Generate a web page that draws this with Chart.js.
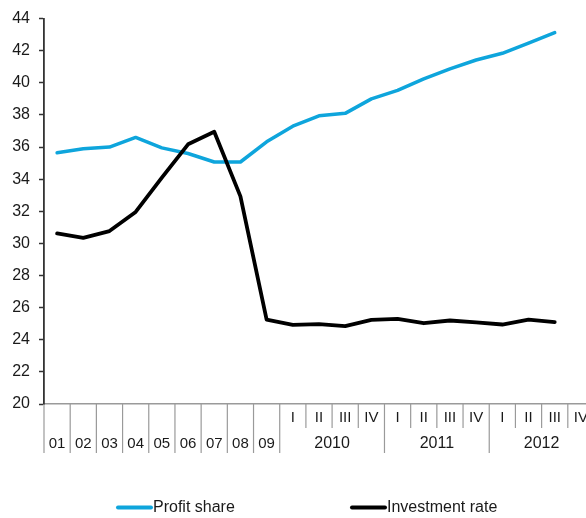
<!DOCTYPE html>
<html>
<head>
<meta charset="utf-8">
<script src="https://cdn.jsdelivr.net/npm/chart.js@4/dist/chart.umd.min.js"></script>
<style>
  html, body { margin: 0; padding: 0; background: #fff; overflow: hidden; width: 586px; height: 518px; }
  #wrap { position: absolute; left: 0; top: 0; width: 600px; height: 518px; }
</style>
</head>
<body>
<div id="wrap"><canvas id="c" width="600" height="518"></canvas></div>
<script>
// ---- data ----
const annualLabels = ['01', '02', '03', '04', '05', '06', '07', '08', '09'];
const quarterLabels = ['I', 'II', 'III', 'IV'];
const quarterYears = ['2010', '2011', '2012'];
const yTicks = [20, 22, 24, 26, 28, 30, 32, 34, 36, 38, 40, 42, 44];

const profitShare = [35.65, 35.9, 36.0, 36.6, 35.95, 35.6, 35.07, 35.07, 36.33,
                     37.3, 37.95, 38.1, 39.0, 39.53, 40.25, 40.87, 41.42, 41.84, 42.47, 43.13, null];
const investmentRate = [30.62, 30.35, 30.77, 31.96, 34.1, 36.17, 36.95, 32.93, 25.26,
                        24.93, 24.98, 24.85, 25.24, 25.3, 25.03, 25.2, 25.08, 24.95, 25.26, 25.1, null];

const seriesNames = ['Profit share', 'Investment rate'];
const seriesColors = ['#0ea5dc', '#000000'];

// categories built from the label arrays
const categories = [];
const categoryKind = [];   // 'annual' or 'quarter'
const categoryYear = [];
annualLabels.forEach(a => { categories.push(a); categoryKind.push('annual'); categoryYear.push(''); });
quarterYears.forEach(y => quarterLabels.forEach(q => { categories.push(q); categoryKind.push('quarter'); categoryYear.push(y); }));

const FONT = '"Liberation Sans", Arial, sans-serif';

const axisLabelsPlugin = {
  id: 'axisLabels',
  afterDraw(chart) {
    const ctx = chart.ctx;
    const xs = chart.scales.x;
    const area = chart.chartArea;
    const w = xs.getPixelForValue(1) - xs.getPixelForValue(0);
    const top = area.bottom;
    const row1 = top + 14;
    const row2 = top + 40;
    const longEnd = top + 49;
    const shortEnd = top + 24;
    ctx.save();
    ctx.strokeStyle = '#9a9a9a';
    ctx.lineWidth = 1.2;
    ctx.fillStyle = '#1a1a1a';
    ctx.textAlign = 'center';
    ctx.textBaseline = 'middle';
    ctx.font = '15px ' + FONT;
    categories.forEach((lab, i) => {
      const cx = xs.getPixelForValue(i);
      const left = cx - w / 2;
      let end = longEnd;
      if (categoryKind[i] === 'quarter' && lab !== quarterLabels[0]) end = shortEnd;
      if (i > 0) {
        ctx.beginPath(); ctx.moveTo(left, top); ctx.lineTo(left, end); ctx.stroke();
      }
      if (categoryKind[i] === 'annual') {
        ctx.fillText(lab, cx, row2);
      } else {
        ctx.fillText(lab, cx, row1);
      }
    });
    // outer edges
    const lastX = xs.getPixelForValue(categories.length - 1) + w / 2;
    ctx.beginPath(); ctx.moveTo(lastX, top); ctx.lineTo(lastX, longEnd); ctx.stroke();
    const firstX = xs.getPixelForValue(0) - w / 2;
    ctx.beginPath(); ctx.moveTo(firstX, top); ctx.lineTo(firstX, longEnd); ctx.stroke();
    // year group labels
    ctx.font = '16px ' + FONT;
    quarterYears.forEach(y => {
      const idx = categoryYear.map((v, i) => v === y ? i : -1).filter(i => i >= 0);
      const c = (xs.getPixelForValue(idx[0]) + xs.getPixelForValue(idx[idx.length - 1])) / 2;
      ctx.fillText(y, c, row2);
    });
    // legend
    const legendX = [117, 351];
    const ly = 507.5;
    ctx.font = '16px ' + FONT;
    ctx.textAlign = 'left';
    chart.data.datasets.forEach((ds, k) => {
      ctx.strokeStyle = ds.borderColor;
      ctx.lineWidth = 4;
      ctx.lineCap = 'round';
      ctx.beginPath(); ctx.moveTo(legendX[k] + 1, ly); ctx.lineTo(legendX[k] + 34, ly); ctx.stroke();
      ctx.fillStyle = '#1a1a1a';
      ctx.fillText(ds.label, legendX[k] + 36, ly);
    });
    ctx.restore();
  }
};

new Chart(document.getElementById('c'), {
  type: 'line',
  data: {
    labels: categories,
    datasets: [
      { label: seriesNames[0], data: profitShare, borderColor: seriesColors[0], backgroundColor: seriesColors[0],
        borderWidth: 3.5, pointRadius: 0, tension: 0, borderJoinStyle: 'round', borderCapStyle: 'round', order: 2 },
      { label: seriesNames[1], data: investmentRate, borderColor: seriesColors[1], backgroundColor: seriesColors[1],
        borderWidth: 3.8, pointRadius: 0, tension: 0, borderJoinStyle: 'round', borderCapStyle: 'round', order: 1 }
    ]
  },
  options: {
    responsive: false,
    animation: false,
    devicePixelRatio: 1,
    layout: { padding: { top: 14, right: 6, left: 0, bottom: 0 } },
    plugins: { legend: { display: false }, tooltip: { enabled: false } },
    scales: {
      x: {
        type: 'category',
        offset: true,
        grid: { display: false },
        border: { display: true, color: '#9a9a9a', width: 1.5 },
        ticks: { display: false },
        afterFit(scale) { scale.height = 114; }
      },
      y: {
        min: 20, max: 44,
        afterBuildTicks(scale) { scale.ticks = yTicks.map(v => ({ value: v })); },
        grid: { drawOnChartArea: false, drawTicks: true, tickLength: 5, color: '#333', tickColor: '#333', tickWidth: 1.5 },
        border: { display: true, color: '#333', width: 1.8 },
        ticks: { font: { size: 16, family: FONT }, color: '#1a1a1a', padding: 9 },
        afterFit(scale) { scale.width = 44; }
      }
    }
  },
  plugins: [axisLabelsPlugin]
});
</script>
</body>
</html>
